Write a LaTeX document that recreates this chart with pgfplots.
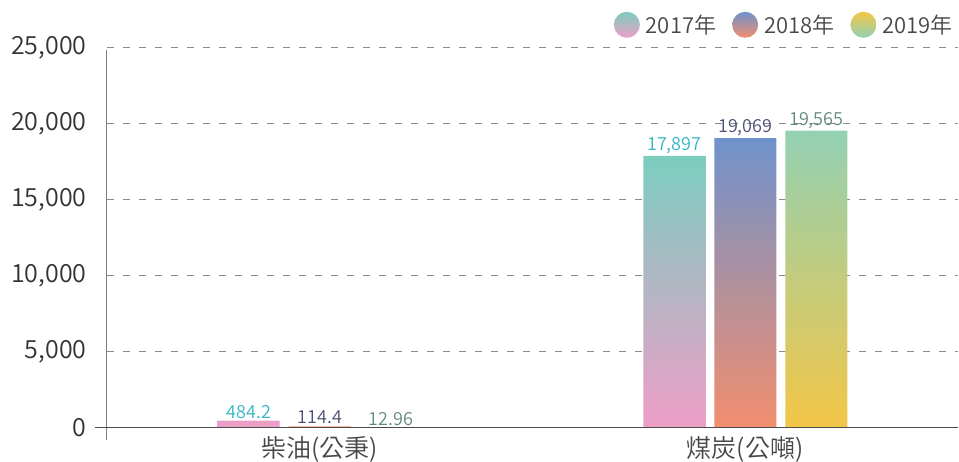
\documentclass[border=0pt]{standalone}
\usepackage{pgfplots}
\pgfplotsset{compat=1.18}
\usepackage{fontspec}
\setmainfont{Noto Sans CJK TC}[UprightFont=* DemiLight]
\definecolor{a17t}{HTML}{7CCDBF}
\definecolor{a17b}{HTML}{EE9EC6}
\definecolor{a18t}{HTML}{6F92CC}
\definecolor{a18b}{HTML}{F28E6E}
\definecolor{a19t}{HTML}{93D1B3}
\definecolor{a19b}{HTML}{F3C647}
\definecolor{l17}{HTML}{33B5C4}
\definecolor{l18}{HTML}{4A4F73}
\definecolor{l19}{HTML}{5F8C78}
\definecolor{txt}{HTML}{333333}
\begin{document}
\begin{tikzpicture}
\begin{axis}[
  name=ax,
  at={(0,0)}, anchor=south west,
  scale only axis, width=851pt, height=380pt,
  xmin=-0.5, xmax=1.5, ymin=0, ymax=25000,
  xtick={0,1}, xticklabels={柴油(公秉),煤炭(公噸)},
  ytick={0,5000,10000,15000,20000,25000},
  major tick length=0pt,
  axis line style={draw=none},
  ymajorgrids, grid style={dash pattern=on 7pt off 9pt, color=black!45, line width=1pt},
  /pgf/number format/assume math mode=true,
  /pgf/number format/.cd, fixed, 1000 sep={,}, /pgfplots/.cd,
  scaled y ticks=false,
  yticklabel style={font=\fontsize{25}{27}\selectfont, text=txt, xshift=-17pt},
  xticklabel style={font=\fontsize{25}{27}\selectfont, text=txt!90, yshift=-5pt},
  ybar=9pt, bar width=62pt,
  nodes near coords={\pgfmathprintnumber[fixed,precision=2,1000 sep={,},assume math mode=true]{\pgfplotspointmeta}},
  every node near coord/.append style={font=\fontsize{18}{20}\selectfont, inner sep=2pt},
  legend style={at={(1,1)}, anchor=south east, yshift=8pt, draw=none, fill=none,
    font=\fontsize{22}{24}\selectfont, text=txt!90,
    /tikz/every odd column/.append style={column sep=4pt},
    /tikz/every even column/.append style={column sep=14pt}},
  legend columns=-1,
]
\addplot[draw=none, top color=a17t, bottom color=a17b,
  every node near coord/.append style={text=l17},
  legend image code/.code={\shade[top color=a17t, bottom color=a17b] (13pt,0pt) circle (13pt);}]
  coordinates {(0,484.2) (1,17897)};
\addplot[draw=none, top color=a18t, bottom color=a18b,
  every node near coord/.append style={text=l18},
  legend image code/.code={\shade[top color=a18t, bottom color=a18b] (13pt,0pt) circle (13pt);}]
  coordinates {(0,114.4) (1,19069)};
\addplot[draw=none, top color=a19t, bottom color=a19b,
  every node near coord/.append style={text=l19},
  legend image code/.code={\shade[top color=a19b, bottom color=a19t] (13pt,0pt) circle (13pt);}]
  coordinates {(0,12.96) (1,19565)};
\legend{2017年,2018年,2019年}
\end{axis}
\draw[color=black!50, line width=1pt] ([yshift=-12pt]ax.south west) -- ([yshift=-2pt]ax.north west);
\draw[color=black!70, line width=1pt] ([xshift=-12pt]ax.south west) -- (ax.south east);
\pgfresetboundingbox
\path (-107pt,-34pt) rectangle (852pt,428pt);
\end{tikzpicture}
\end{document}
